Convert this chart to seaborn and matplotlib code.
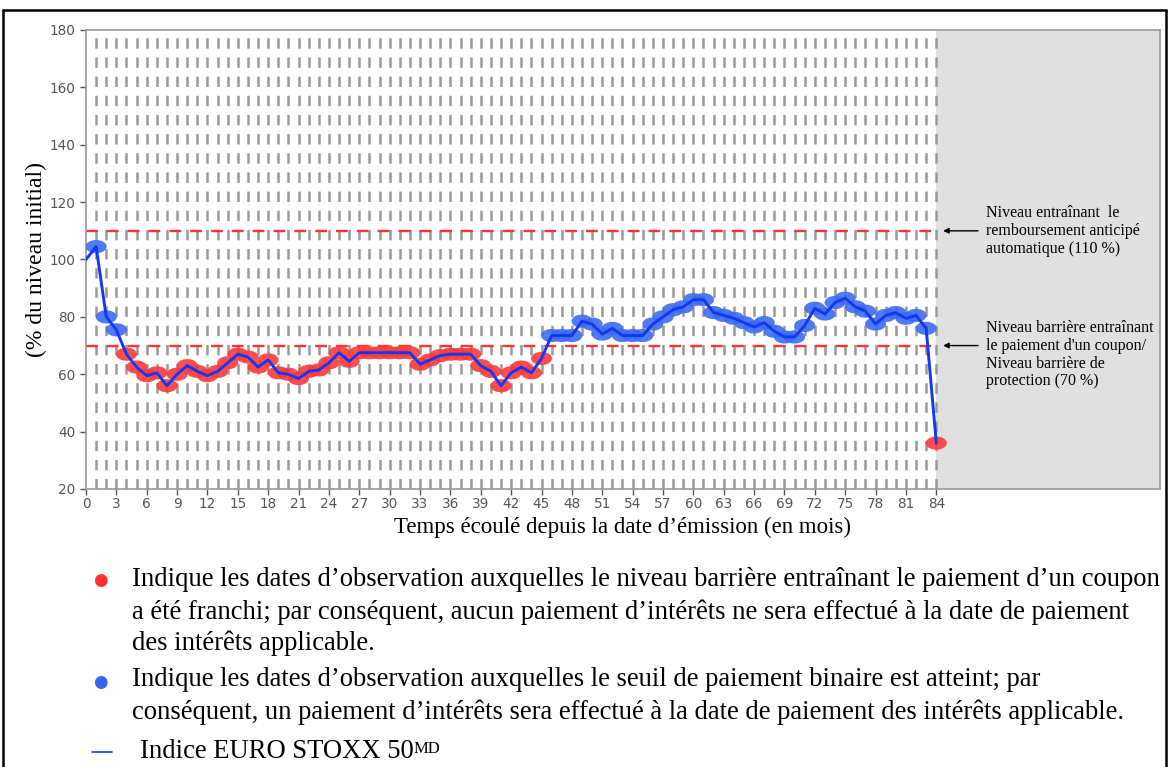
import numpy as np
import pandas as pd
import matplotlib
matplotlib.use("Agg")
import matplotlib.pyplot as plt
from matplotlib.lines import Line2D
import seaborn as sns

# monthly levels of the index (% of initial level)
months = list(range(0, 85))
levels = [100, 104.5, 80, 75.5, 67, 62.5, 59.5, 60.5, 56, 60,
          63, 61, 59.5, 61, 64, 67, 66, 62.5, 65, 60.5,
          60, 58.5, 61, 61.5, 64, 67.5, 64.5, 67.5, 67.5, 67.5,
          67.5, 67.5, 67.5, 63.5, 65, 66.5, 67, 67, 67, 63,
          61, 56, 60.5, 62.5, 60.5, 65.5, 73.5, 73.5, 73.5, 78.5,
          77.5, 74, 76, 73.5, 73.5, 73.5, 77.5, 80, 82.5, 83.5,
          86, 86, 81.5, 80.5, 79.5, 78, 76.5, 78, 75, 73,
          73, 77, 83, 81, 85, 86.5, 83.5, 82, 77.5, 80.5,
          81.5, 79.5, 80.5, 76, 36]

barrier_coupon = 70
autocall = 110
x_ticks = list(range(0, 85, 3))
y_ticks = list(range(20, 181, 20))

df = pd.DataFrame({"month": months, "level": levels})
obs = df[df["month"] >= 1].copy()
obs["status"] = np.where(obs["level"] < barrier_coupon, "franchi", "atteint")

sns.set_style("white")
plt.rcParams["font.family"] = ["DejaVu Sans"]
plt.rcParams["lines.scale_dashes"] = False

fig = plt.figure(figsize=(11.69, 7.67), dpi=100)
ax = fig.add_axes([86 / 1169, 1 - 489 / 767, (1160 - 86) / 1169, (489 - 30) / 767])

x_end = 106.1
ax.set_xlim(0, x_end)
ax.set_ylim(20, 180)

# grey zone after maturity
ax.axvspan(84, x_end, color="#e0e0e0", zorder=0, lw=0)

# dashed monthly grid
for m in range(1, 85):
    ax.axvline(m, color="#999999", lw=1.8, ls=(0, (7.5, 6.3)), zorder=1)

# barrier levels
for lvl in [autocall, barrier_coupon]:
    ax.plot([0, 84], [lvl, lvl], color="#ff3333", lw=1.7, ls=(0, (8.5, 6.5)), zorder=2)

# observation markers (ellipses)
t = np.linspace(0, 2 * np.pi, 40)
ellipse = np.column_stack([np.cos(t) * 1.6, np.sin(t)])
sns.scatterplot(data=obs, x="month", y="level", hue="status",
                palette={"franchi": "#ff3a3a", "atteint": "#3d6cf2"},
                marker=ellipse, s=230, linewidth=0, alpha=0.9,
                legend=False, ax=ax, zorder=3)

sns.lineplot(data=df, x="month", y="level", color="#1238f5", lw=2.1,
             ax=ax, zorder=4)

ax.set_xticks(x_ticks)
ax.set_yticks(y_ticks)
ax.tick_params(axis="both", colors="#555555", labelsize=9.8, length=4, width=1,
               direction="out", bottom=True, left=True)
ax.tick_params(axis="x", pad=2)
for s in ax.spines.values():
    s.set_color("#9a9a9a")
    s.set_linewidth(1.2)

ax.set_xlabel("Temps écoulé depuis la date d’émission (en mois)",
              family="Liberation Serif", fontsize=16.5, color="black", labelpad=4)
ax.set_ylabel("(% du niveau initial)", family="Liberation Serif",
              fontsize=17, color="black", labelpad=2)

# side annotations
ann_font = dict(family="Liberation Serif", fontsize=11.5, color="black",
                linespacing=1.15)
ax.annotate("", xy=(84.4, autocall), xytext=(88.4, autocall),
            arrowprops=dict(arrowstyle="-|>", color="black", lw=1,
                            mutation_scale=8))
ax.text(88.9, autocall, "Niveau entraînant  le\nremboursement anticipé\nautomatique (110 %)",
        va="center", ha="left", **ann_font)
ax.annotate("", xy=(84.4, barrier_coupon), xytext=(88.4, barrier_coupon),
            arrowprops=dict(arrowstyle="-|>", color="black", lw=1,
                            mutation_scale=8))
ax.text(88.9, barrier_coupon - 3.2,
        "Niveau barrière entraînant\nle paiement d'un coupon/\nNiveau barrière de\nprotection (70 %)",
        va="center", ha="left", **ann_font)

# legend text below chart
leg_font = dict(family="Liberation Serif", fontsize=19.2, color="black",
                va="center", ha="left")
fig.text(100 / 1169, 1 - 580 / 767, "●", color="#ff3030", fontsize=12,
         va="center", ha="center")
fig.text(132 / 1169, 1 - 580 / 767,
         "Indique les dates d’observation auxquelles le niveau barrière entraînant le paiement d’un coupon",
         **leg_font)
fig.text(132 / 1169, 1 - 612 / 767,
         "a été franchi; par conséquent, aucun paiement d’intérêts ne sera effectué à la date de paiement",
         **leg_font)
fig.text(132 / 1169, 1 - 643 / 767, "des intérêts applicable.", **leg_font)
fig.text(100 / 1169, 1 - 682 / 767, "●", color="#3366ee", fontsize=12,
         va="center", ha="center")
fig.text(132 / 1169, 1 - 680 / 767,
         "Indique les dates d’observation auxquelles le seuil de paiement binaire est atteint; par",
         **leg_font)
fig.text(132 / 1169, 1 - 712 / 767,
         "conséquent, un paiement d’intérêts sera effectué à la date de paiement des intérêts applicable.",
         **leg_font)
fig.add_artist(Line2D([92 / 1169, 112 / 1169], [1 - 752 / 767, 1 - 752 / 767],
                      color="#1238f5", lw=1.2))
idx = fig.text(140 / 1169, 1 - 752 / 767, "Indice EURO STOXX 50", **leg_font)
plt.annotate("MD", xy=(1.0, 0.93), xycoords=idx, ha="left", va="top",
             family="Liberation Serif", fontsize=12, color="black")

# outer frame
frame_kw = dict(color="black", lw=1.8)
fig.add_artist(Line2D([3 / 1169, 3 / 1169], [0, 1 - 10 / 767], **frame_kw))
fig.add_artist(Line2D([3 / 1169, 1166 / 1169], [1 - 10 / 767, 1 - 10 / 767], **frame_kw))
fig.add_artist(Line2D([1166 / 1169, 1166 / 1169], [0, 1 - 10 / 767], **frame_kw))

fig.savefig("out.png", dpi=100)
